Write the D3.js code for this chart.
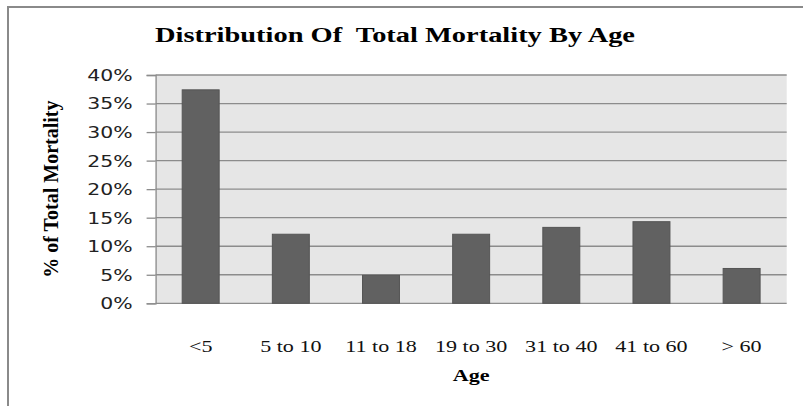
<!DOCTYPE html>
<html>
<head>
<meta charset="utf-8">
<script src="https://cdn.jsdelivr.net/npm/d3@7"></script>
<style>
  html, body { margin: 0; padding: 0; background: #ffffff; }
  svg { display: block; }
</style>
</head>
<body>
<svg id="chart" width="803" height="406"></svg>
<script>
const categories = ["<5", "5 to 10", "11 to 18", "19 to 30", "31 to 40", "41 to 60", "> 60"];
const values = [37.4, 12.1, 4.9, 12.1, 13.3, 14.3, 6.1];
const yTicks = [0, 5, 10, 15, 20, 25, 30, 35, 40];
const titleText = "Distribution Of  Total Mortality By Age";
const xTitle = "Age";
const yTitle = "% of Total Mortality";

const plot = { left: 155.6, right: 786.7, top: 75, bottom: 303.3 };

const svg = d3.select("#chart");

function widen(sel, factor) {
  sel.each(function () {
    const len = this.getComputedTextLength();
    d3.select(this).attr("textLength", len * factor).attr("lengthAdjust", "spacingAndGlyphs");
  });
}

// outer frame (continues past right/bottom edges)
svg.append("rect")
  .attr("x", 8).attr("y", 7)
  .attr("width", 900).attr("height", 500)
  .attr("fill", "none").attr("stroke", "#8a8a8a").attr("stroke-width", 2);

const x = d3.scaleBand().domain(categories)
  .range([plot.left, plot.right]).paddingInner(0.59).paddingOuter(0.295);
const y = d3.scaleLinear().domain([0, 40]).range([plot.bottom, plot.top]);

// plot background
svg.append("rect")
  .attr("x", plot.left).attr("y", plot.top)
  .attr("width", plot.right - plot.left).attr("height", plot.bottom - plot.top)
  .attr("fill", "#e6e6e6");

// gridlines
svg.append("g").selectAll("line").data(yTicks).join("line")
  .attr("x1", plot.left).attr("x2", plot.right)
  .attr("y1", d => y(d)).attr("y2", d => y(d))
  .attr("stroke", "#8c8c8c").attr("stroke-width", 1.3);

// y axis
const yAxis = svg.append("g")
  .attr("transform", `translate(${plot.left},0)`)
  .call(d3.axisLeft(y).tickValues(yTicks).tickSize(9).tickPadding(14).tickFormat(d => d + "%"));
yAxis.select(".domain").attr("stroke", "#8c8c8c").attr("stroke-width", 1.3);
yAxis.selectAll(".tick line").attr("stroke", "#8c8c8c").attr("stroke-width", 1.3);
yAxis.selectAll(".tick text")
  .attr("font-family", "'DejaVu Sans', Verdana, sans-serif")
  .attr("font-size", 15).attr("fill", "#222")
  .attr("dy", "0.36em");
widen(yAxis.selectAll(".tick text"), 1.36);

// bars
svg.append("g").selectAll("rect").data(values).join("rect")
  .attr("x", (d, i) => x(categories[i]))
  .attr("width", x.bandwidth())
  .attr("y", d => y(d))
  .attr("height", d => y(0) - y(d))
  .attr("fill", "#616161").attr("stroke", "#555555").attr("stroke-width", 1);

// x axis labels
const xAxis = svg.append("g")
  .attr("transform", `translate(0,${plot.bottom})`)
  .call(d3.axisBottom(x).tickSize(0).tickPadding(0));
xAxis.select(".domain").remove();
xAxis.selectAll(".tick text")
  .attr("font-family", "'Liberation Serif', 'Times New Roman', serif")
  .attr("font-size", 16).attr("fill", "#111")
  .attr("y", 0).attr("dy", 0)
  .attr("transform", "translate(0,49)");
widen(xAxis.selectAll(".tick text"), 1.38);

// title
svg.append("text")
  .attr("x", 395).attr("y", 42)
  .attr("text-anchor", "middle")
  .attr("font-family", "'Liberation Serif', 'Times New Roman', serif")
  .attr("font-weight", "bold").attr("font-size", 20)
  .attr("fill", "#000")
  .style("white-space", "pre")
  .attr("textLength", 480).attr("lengthAdjust", "spacingAndGlyphs")
  .text(titleText);

// x title
const xt = svg.append("text")
  .attr("x", (plot.left + plot.right) / 2).attr("y", 381)
  .attr("text-anchor", "middle")
  .attr("font-family", "'Liberation Serif', 'Times New Roman', serif")
  .attr("font-weight", "bold").attr("font-size", 17)
  .attr("fill", "#000")
  .text(xTitle);
widen(xt, 1.3);

// y title
svg.append("text")
  .attr("transform", `translate(58,${(plot.top + plot.bottom) / 2}) rotate(-90)`)
  .attr("text-anchor", "middle")
  .attr("font-family", "'Liberation Serif', 'Times New Roman', serif")
  .attr("font-weight", "bold").attr("font-size", 20)
  .attr("fill", "#000")
  .text(yTitle);
</script>
</body>
</html>
